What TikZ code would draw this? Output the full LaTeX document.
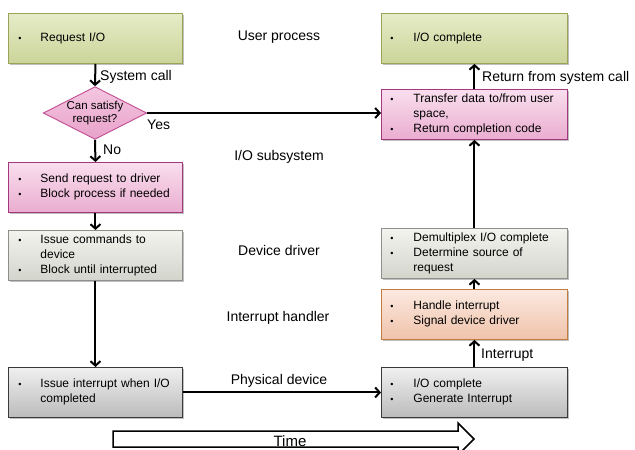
\documentclass[tikz,border=0pt]{standalone}
\usepackage{fontspec}
\setmainfont{Liberation Sans}
\usetikzlibrary{arrows.meta,shapes.geometric,shadows}
\definecolor{grT}{HTML}{E6ECC8}
\definecolor{grB}{HTML}{CBD499}
\definecolor{grD}{HTML}{9CA256}
\definecolor{pkT}{HTML}{F9DEEE}
\definecolor{pkB}{HTML}{EAADD0}
\definecolor{pkD}{HTML}{A3387F}
\definecolor{dmT}{HTML}{F4C6E0}
\definecolor{dmB}{HTML}{E8A2CA}
\definecolor{dmD}{HTML}{C04C94}
\definecolor{gaT}{HTML}{F3F3EF}
\definecolor{gaB}{HTML}{D3D5CC}
\definecolor{gaD}{HTML}{8E8E8A}
\definecolor{gbT}{HTML}{F0F0F0}
\definecolor{gbB}{HTML}{BBBBBB}
\definecolor{gbD}{HTML}{3A3A3A}
\definecolor{orT}{HTML}{FBE9E0}
\definecolor{orB}{HTML}{F0C3AA}
\definecolor{orD}{HTML}{C37C3E}
\newcommand{\bul}{{\fontsize{9}{15}\selectfont\textbullet}}
\begin{document}
\begin{tikzpicture}[x=1pt,y=-1pt,
  box/.style={draw, line width=0.9pt, anchor=north west, minimum width=174pt,
    minimum height=50pt, text width=154pt, inner xsep=10pt, inner ysep=1pt,
    font=\fontsize{12}{15}\selectfont, align=left,
    drop shadow={shadow xshift=1.5pt,shadow yshift=-1.5pt,opacity=0.35,fill=black!70}},
  rbox/.style={box, minimum width=186pt, text width=168pt, inner xsep=9pt},
  green/.style={top color=grT, bottom color=grB, draw=grD},
  pink/.style={top color=pkT, bottom color=pkB, draw=pkD},
  graya/.style={top color=gaT, bottom color=gaB, draw=gaD},
  grayb/.style={top color=gbT, bottom color=gbB, draw=gbD},
  orange/.style={top color=orT, bottom color=orB, draw=orD},
  conn/.style={draw, line width=2pt, -{Straight Barb[length=4.5pt,width=10pt]}},
  lbl/.style={font=\fontsize{14}{16}\selectfont, inner sep=0pt},
  layer/.style={font=\fontsize{14}{16}\selectfont, inner sep=0pt}
]
\clip (0,0) rectangle (635,450);
\fill[white] (0,0) rectangle (635,450);

% left column
\node[box, green] (req) at (8,13) {\begin{tabular}{@{}p{22pt}@{}l@{}}\bul & Request I/O\end{tabular}};
\node[draw=dmD, line width=0.9pt, top color=dmT, bottom color=dmB, diamond, aspect=1.96,
  minimum width=98pt, minimum height=50pt, inner sep=0pt, align=center,
  font=\fontsize{11.5}{13}\selectfont] (dec) at (95,113) {Can satisfy\\request?};
\node[box, pink] (send) at (8,162) {\begin{tabular}{@{}p{22pt}@{}l@{}}\bul & Send request to driver\\ \bul & Block process if needed\end{tabular}};
\node[box, graya] (cmd) at (8,230) {\begin{tabular}{@{}p{22pt}@{}l@{}}\bul & Issue commands to\\ & device\\ \bul & Block until interrupted\end{tabular}};
\node[box, grayb] (irq) at (8,367) {\begin{tabular}{@{}p{22pt}@{}l@{}}\bul & Issue interrupt when I/O\\ & completed\end{tabular}};

% right column
\node[rbox, green] (done) at (381,13) {\begin{tabular}{@{}p{23pt}@{}l@{}}\bul & I/O complete\end{tabular}};
\node[rbox, pink] (xfer) at (381,89) {\begin{tabular}{@{}p{23pt}@{}l@{}}\bul & Transfer data to/from user\\ & space,\\ \bul & Return completion code\end{tabular}};
\node[rbox, graya] (demux) at (381,228) {\begin{tabular}{@{}p{23pt}@{}l@{}}\bul & Demultiplex I/O complete\\ \bul & Determine source of\\ & request\end{tabular}};
\node[rbox, orange] (hand) at (381,289) {\begin{tabular}{@{}p{23pt}@{}l@{}}\bul & Handle interrupt\\ \bul & Signal device driver\end{tabular}};
\node[rbox, grayb] (phys) at (381,367) {\begin{tabular}{@{}p{23pt}@{}l@{}}\bul & I/O complete\\ \bul & Generate Interrupt\end{tabular}};

% layer labels
\node[layer] (lup) at (279,37) {User process};
\node[layer] (lio) at (279,157) {I/O subsystem};
\node[layer] (ldd) at (279,250) {Device driver};
\node[layer] (lih) at (278,318) {Interrupt handler};
\node[layer] (lpd) at (279,381) {Physical device};

% connectors
\draw[conn] (req.south) -- (dec.north);
\draw[conn] (dec.east) -- (dec.east -| xfer.west);
\draw[conn] (dec.south) -- (send.north);
\draw[conn] (send.south) -- (cmd.north);
\draw[conn] (cmd.south) -- (irq.north);
\draw[conn] (irq.east) -- (irq.east -| phys.west);
\draw[conn] (phys.north) -- (hand.south);
\draw[conn] (hand.north) -- (demux.south);
\draw[conn] (demux.north) -- (xfer.south);
\draw[conn] (xfer.north) -- (done.south);

% connector labels
\node[lbl, anchor=west] (tsys) at (100,77) {System call};
\node[lbl, anchor=west] (tyes) at (147,125) {Yes};
\node[lbl, anchor=west] (tno) at (103,150) {No};
\node[lbl, anchor=west] (tret) at (482,78) {Return from system call};
\node[lbl, anchor=west] (tint) at (481,355) {Interrupt};

% time arrow
\draw[line width=1.5pt, fill=white] (113,431) -- (458,431) -- (458,423) -- (474,439)
  -- (458,455) -- (458,447) -- (113,447) -- cycle;
\node[font=\fontsize{15}{17}\selectfont, inner sep=0pt] (ttime) at (290,441) {Time};
\end{tikzpicture}
\end{document}
